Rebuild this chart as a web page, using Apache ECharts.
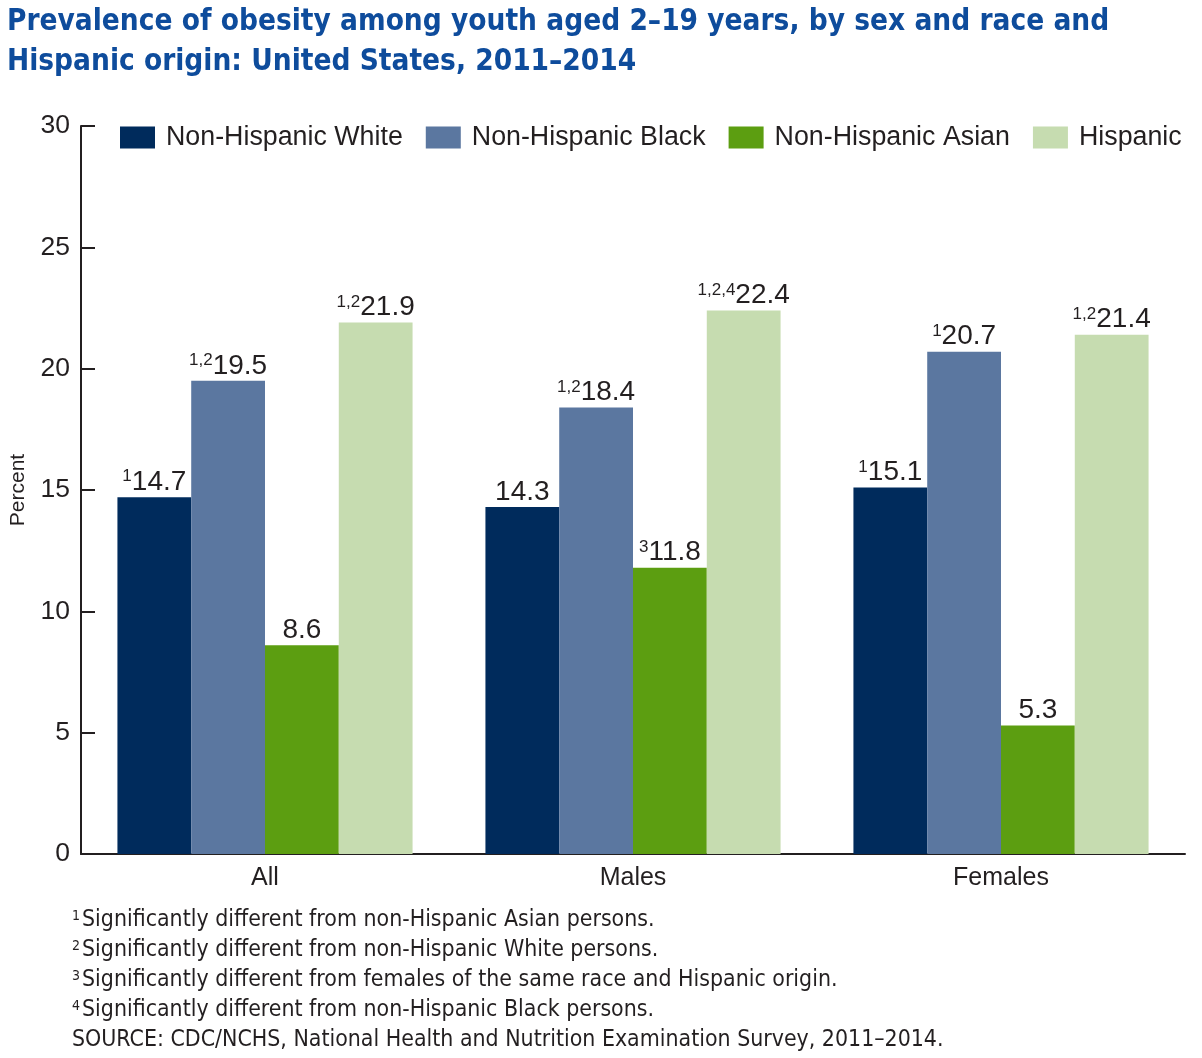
<!DOCTYPE html>
<html>
<head>
<meta charset="utf-8">
<script src="https://cdn.jsdelivr.net/npm/echarts@6/dist/echarts.min.js"></script>
<style>
html,body{margin:0;padding:0;background:#fff;}
#chart{width:1202px;height:1058px;}
</style>
</head>
<body>
<div id="chart"></div>
<script>
const categories = ['All', 'Males', 'Females'];
const seriesNames = ['Non-Hispanic White', 'Non-Hispanic Black', 'Non-Hispanic Asian', 'Hispanic'];
const nhWhite = [14.7, 14.3, 15.1];
const nhBlack = [19.5, 18.4, 20.7];
const nhAsian = [8.6, 11.8, 5.3];
const hispanic = [21.9, 22.4, 21.4];
const supWhite = ['1', '', '1'];
const supBlack = ['1,2', '1,2', '1'];
const supAsian = ['', '3', ''];
const supHispanic = ['1,2', '1,2,4', '1,2'];
const yTicks = [0, 5, 10, 15, 20, 25, 30];
const titleLines = ['Prevalence of obesity among youth aged 2\u201319 years, by sex and race and', 'Hispanic origin: United States, 2011\u20132014'];
const footnotes = [
  ['1', 'Significantly different from non-Hispanic Asian persons.'],
  ['2', 'Significantly different from non-Hispanic White persons.'],
  ['3', 'Significantly different from females of the same race and Hispanic origin.'],
  ['4', 'Significantly different from non-Hispanic Black persons.'],
  ['', 'SOURCE: CDC/NCHS, National Health and Nutrition Examination Survey, 2011\u20132014.']
];

const colors = ['#002b5c', '#5b77a0', '#5c9e11', '#c6dcb0'];
const allValues = [nhWhite, nhBlack, nhAsian, hispanic];
const allSups = [supWhite, supBlack, supAsian, supHispanic];
const textColor = '#231f20';
const condensed = '"Liberation Sans Narrow", "DejaVu Sans Condensed", "Liberation Sans", sans-serif';
const sansFont = '"Liberation Sans", Arial, sans-serif';

const series = seriesNames.map((name, i) => ({
  name: name,
  type: 'bar',
  barGap: '0%',
  barCategoryGap: '19.8%',
  itemStyle: { color: colors[i] },
  data: allValues[i].map((v, j) => ({ value: v, sup: allSups[i][j] })),
  label: {
    show: true,
    position: 'top',
    distance: 1,
    formatter: p => (p.data.sup ? '{sup|' + p.data.sup + '}' : '') + '{val|' + p.value.toFixed(1) + '}',
    rich: {
      sup: { fontSize: 17, fontFamily: sansFont, color: textColor, verticalAlign: 'top', lineHeight: 28, padding: [0, 0, 12, 0] },
      val: { fontSize: 28, fontFamily: sansFont, color: textColor, lineHeight: 28 }
    }
  }
}));

const graphics = [];
titleLines.forEach((t, i) => {
  graphics.push({
    type: 'text', left: 7, top: 7 + i * 40,
    style: { text: t, fontSize: 29.5, fontWeight: 'bold', fontFamily: condensed, fill: '#0e4c9c' }
  });
});
footnotes.forEach((f, i) => {
  graphics.push({
    type: 'text', left: 72, top: 909 + i * 30,
    style: {
      text: (f[0] ? '{s|' + f[0] + '}' : '') + '{t|' + f[1] + '}',
      rich: {
        s: { fontSize: 14, fontFamily: condensed, fill: textColor, verticalAlign: 'top', padding: [0, 2, 8, 0] },
        t: { fontSize: 22.9, fontFamily: condensed, fill: textColor }
      }
    }
  });
});

const chart = echarts.init(document.getElementById('chart'));
chart.setOption({
  backgroundColor: '#ffffff',
  animation: false,
  color: colors,
  graphic: graphics,
  legend: {
    top: 119, left: 115,
    itemWidth: 35, itemHeight: 22, itemGap: 23,
    icon: 'rect',
    textStyle: { fontSize: 26.8, fontFamily: sansFont, color: textColor, padding: [0, 0, 0, 6] },
    data: seriesNames
  },
  grid: { left: 77, right: 17, top: 126, bottom: 204, containLabel: false },
  xAxis: {
    type: 'category',
    data: categories,
    axisLine: { lineStyle: { color: textColor, width: 2 } },
    axisTick: { show: false },
    axisLabel: { fontSize: 25, fontFamily: sansFont, color: textColor, margin: 12 }
  },
  yAxis: {
    type: 'value',
    min: 0, max: 30, interval: 5,
    name: 'Percent',
    nameLocation: 'middle',
    nameGap: 52,
    nameTextStyle: { fontSize: 21, fontFamily: sansFont, color: textColor },
    axisLine: { show: true, lineStyle: { color: textColor, width: 2 } },
    axisTick: { show: true, inside: true, length: 14, lineStyle: { color: textColor, width: 2 } },
    axisLabel: { fontSize: 26.5, fontFamily: sansFont, color: textColor, margin: 11, formatter: v => yTicks.indexOf(v) >= 0 ? String(v) : '' },
    splitLine: { show: false }
  },
  series: series
});
</script>
</body>
</html>
